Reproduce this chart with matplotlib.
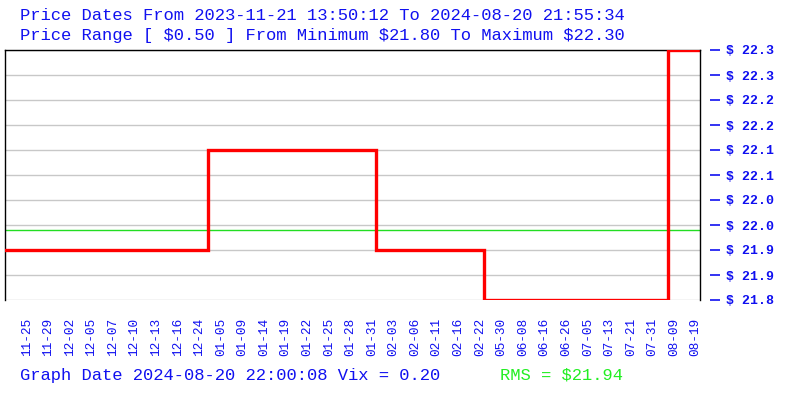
import matplotlib as mpl
mpl.rcParams['font.family'] = ['Liberation Mono', 'DejaVu Sans Mono']
import matplotlib.pyplot as plt
import numpy as np

# Date labels along the bottom (one per sample slot).
date_labels = ['11-25', '11-29', '12-02', '12-05', '12-07', '12-10', '12-13',
               '12-16', '12-24', '01-05', '01-09', '01-14', '01-19', '01-22',
               '01-25', '01-28', '01-31', '02-03', '02-06', '02-11', '02-16',
               '02-22', '05-30', '06-08', '06-16', '06-26', '07-05', '07-13',
               '07-21', '07-31', '08-09', '08-19']

# Price steps: position (in label slots) where each level starts, and level.
step_pos = [-1.0, 8.4, 16.2, 21.2, 29.7, 31.2]
step_price = [21.90, 22.10, 21.90, 21.80, 22.30, 22.30]

rms = 21.94
price_ticks = [21.80, 21.85, 21.90, 21.95, 22.00, 22.05, 22.10, 22.15,
               22.20, 22.25, 22.30]
price_labels = ['$ 21.8', '$ 21.9', '$ 21.9', '$ 22.0', '$ 22.0', '$ 22.1',
                '$ 22.1', '$ 22.2', '$ 22.2', '$ 22.3', '$ 22.3']

blue = '#1010f0'

fig = plt.figure(figsize=(8, 4), dpi=100)
ax = fig.add_axes([0.00625, 0.25, 0.86875, 0.625])

ax.set_xlim(step_pos[0], step_pos[-1])
ax.set_ylim(price_ticks[0], price_ticks[-1])

# Grid lines at each price tick
for p in price_ticks:
    ax.axhline(p, color='#c8c8c8', lw=1.0, zorder=1)

ax.axhline(rms, color='#22dd22', lw=1.0, zorder=2)
ax.step(step_pos, step_price, where='post', color='red', lw=2.4,
        zorder=3, solid_joinstyle='miter')

# right border drawn by hand; the tick spine sits a little outside it
ax.axvline(step_pos[-1], color='black', lw=1.0, clip_on=False, zorder=4)
ax.spines['right'].set_position(('outward', 7))
ax.spines['right'].set_visible(False)

ax.yaxis.tick_right()
ax.set_yticks(price_ticks)
ax.set_yticklabels(price_labels, fontsize=9.5, fontweight='bold', color=blue)
ax.tick_params(axis='y', length=7.5, width=1.2, color=blue, pad=4)

ax.set_xticks(np.arange(len(date_labels)))
ax.set_xticklabels(date_labels, rotation=90, fontsize=9.2, color=blue)
ax.tick_params(axis='x', length=0, pad=13)

for side in ['left', 'top']:
    ax.spines[side].set_color('black')
    ax.spines[side].set_linewidth(1.0)
ax.spines['bottom'].set_visible(False)

fig.text(0.025, 0.962, 'Price Dates From 2023-11-21 13:50:12 To 2024-08-20 21:55:34',
         fontsize=12.3, color=blue, va='center')
fig.text(0.025, 0.912, 'Price Range [ $0.50 ] From Minimum $21.80 To Maximum $22.30',
         fontsize=12.3, color=blue, va='center')
fig.text(0.025, 0.062, 'Graph Date 2024-08-20 22:00:08 Vix = 0.20',
         fontsize=12.3, color=blue, va='center')
fig.text(0.625, 0.062, 'RMS = $21.94', fontsize=12.3, color='#22ee22',
         va='center')

plt.savefig('out.png', dpi=100)
